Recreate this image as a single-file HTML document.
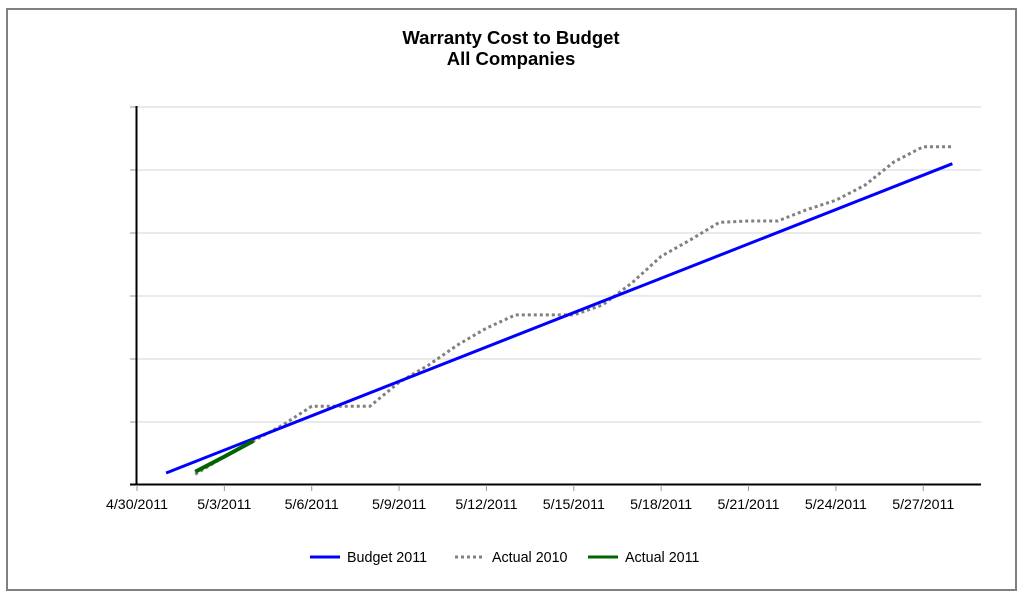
<!DOCTYPE html>
<html><head><meta charset="utf-8"><style>
body{margin:0;background:#fff;width:1024px;height:600px;overflow:hidden;font-family:"Liberation Sans",sans-serif}
#frame{position:absolute;left:6px;top:8px;width:1007px;height:579px;border:2px solid #808080}
</style></head><body>
<div id="frame"></div>
<svg id="chart" width="1024" height="600" style="position:absolute;left:0;top:0"></svg>
<script>
const tickLabels=["4/30/2011","5/3/2011","5/6/2011","5/9/2011","5/12/2011","5/15/2011","5/18/2011","5/21/2011","5/24/2011","5/27/2011"];
const tickDays=[0,3,6,9,12,15,18,21,24,27];
const budgetDays=[1,28];
const budget2011=[0.19,5.10];
const actual2010Days=[2,3,4,5,6,7,8,9,10,11,12,13,14,15,16,17,18,19,20,21,22,23,24,25,26,27,28];
const actual2010=[0.17,0.45,0.70,0.95,1.25,1.25,1.25,1.63,1.90,2.22,2.49,2.70,2.70,2.70,2.86,3.21,3.63,3.89,4.17,4.19,4.19,4.37,4.52,4.76,5.13,5.37,5.37];
const actual2011Days=[2,3,4];
const actual2011=[0.21,0.45,0.70];
const yGrid=[1,2,3,4,5,6];

const svg=document.getElementById('chart');
const NS='http://www.w3.org/2000/svg';
const x=d=>137+d*29.12;
const y=v=>485-v*63;
function mk(tag,attrs,parent){const e=document.createElementNS(NS,tag);for(const k in attrs)e.setAttribute(k,attrs[k]);(parent||svg).appendChild(e);return e;}

let t=mk('text',{x:511,y:44,'text-anchor':'middle','font-size':18.5,'font-weight':'bold',fill:'#000'});t.textContent='Warranty Cost to Budget';


t=mk('text',{x:511,y:65,'text-anchor':'middle','font-size':18.5,'font-weight':'bold',fill:'#000'});t.textContent='All Companies';



yGrid.forEach(v=>{
  const g=mk('line',{x1:137,x2:981,y1:y(v),y2:y(v),stroke:'#e3e3e3','stroke-width':1.5});
  
  
  mk('line',{x1:130,x2:137,y1:y(v),y2:y(v),stroke:'#999','stroke-width':1});
});
let a=mk('line',{x1:136.5,x2:136.5,y1:106,y2:485,stroke:'#000','stroke-width':2});


a=mk('line',{x1:130,x2:981,y1:484.5,y2:484.5,stroke:'#000','stroke-width':2});


tickDays.forEach((d,i)=>{
  mk('line',{x1:x(d),x2:x(d),y1:485,y2:491,stroke:'#999','stroke-width':1});
  const l=mk('text',{x:x(d),y:509,'text-anchor':'middle','font-size':14.2,fill:'#000'});
  l.textContent=tickLabels[i];
  
  
});
function line(days,vals,style,name){
  const p=mk('polyline',Object.assign({points:days.map((d,i)=>x(d)+','+y(vals[i])).join(' '),fill:'none'},style));
  
  
}
line(actual2010Days,actual2010,{stroke:'#808080','stroke-width':3,'stroke-dasharray':'3,3'},'series-actual-2010');
line(budgetDays,budget2011,{stroke:'#0000ff','stroke-width':3},'series-budget-2011');
line(actual2011Days,actual2011,{stroke:'#006400','stroke-width':4},'series-actual-2011');

const leg=[[310,'#0000ff','none','Budget 2011','legend-budget-2011'],[455,'#808080','3,3','Actual 2010','legend-actual-2010'],[588,'#006400','none','Actual 2011','legend-actual-2011']];
leg.forEach(l=>{
  const g=mk('g',{});
  
  
  mk('line',{x1:l[0],x2:l[0]+30,y1:557,y2:557,stroke:l[1],'stroke-width':3,'stroke-dasharray':l[2]},g);
  const tt=mk('text',{x:l[0]+37,y:562,'font-size':14.3,fill:'#000'},g);tt.textContent=l[3];
});
</script>
</body></html>
